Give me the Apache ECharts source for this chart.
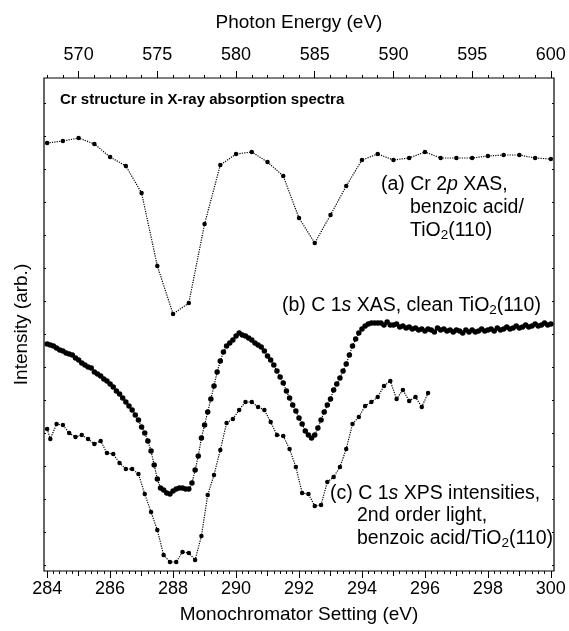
<!DOCTYPE html>
<html><head><meta charset="utf-8">
<script src="https://cdn.jsdelivr.net/npm/echarts@6/dist/echarts.min.js"></script>
<style>html,body{margin:0;padding:0;background:#fff}#c{width:569px;height:631px}</style>
</head><body><div id="c"></div>
<script>
const FONT = '"Liberation Sans", Arial, Helvetica, sans-serif';

// Tick label positions
const monoMajorTicks = [284, 286, 288, 290, 292, 294, 296, 298, 300];
const monoMidTicks = [285, 287, 289, 291, 293, 295, 297, 299];
const monoMinorTicks = Array.from({length: 81}, (_, i) => +(284 + i * 0.2).toFixed(1));
const photonMajorTicks = [570, 575, 580, 585, 590, 595, 600];
const photonMinorTicks = Array.from({length: 33}, (_, i) => 568 + i);
const sideTicks = [6, 39, 72, 105, 138, 171, 204, 237, 270, 303, 336, 369, 402, 435, 468];

// (a) Cr 2p XAS (photon energy, eV)
const cr2pEnergy = [568,569,570,571,572,573,574,575,576,577,578,579,580,581,582,583,584,585,586,587,588,589,590,591,592,593,594,595,596,597,598,599,600];
const cr2pIntensity = [428,430,433,427,414,405,378,305,257,268,347,406,417,419,409,395,353,328,356,385,411,417,411,413,419,413,413,413,415,416,416,413,412];

// (b) C 1s XAS, clean TiO2(110) (monochromator setting, eV)
const xasEnergy = [284.0,284.1,284.2,284.3,284.4,284.5,284.6,284.7,284.8,284.9,
285.0,285.1,285.2,285.3,285.4,285.5,285.6,285.7,285.8,285.9,
286.0,286.1,286.2,286.3,286.4,286.5,286.6,286.7,286.8,286.9,
287.0,287.1,287.2,287.3,287.4,287.5,287.6,287.7,287.8,287.9,
288.0,288.1,288.2,288.3,288.4,288.5,288.6,288.7,288.8,288.9,
289.0,289.1,289.2,289.3,289.4,289.5,289.6,289.7,289.8,289.9,
290.0,290.1,290.2,290.3,290.4,290.5,290.6,290.7,290.8,290.9,
291.0,291.1,291.2,291.3,291.4,291.5,291.6,291.7,291.8,291.9,
292.0,292.1,292.2,292.3,292.4,292.5,292.6,292.7,292.8,292.9,
293.0,293.1,293.2,293.3,293.4,293.5,293.6,293.7,293.8,293.9,
294.0,294.1,294.2,294.3,294.4,294.5,294.6,294.7,294.8,294.9,
295.0,295.1,295.2,295.3,295.4,295.5,295.6,295.7,295.8,295.9,
296.0,296.1,296.2,296.3,296.4,296.5,296.6,296.7,296.8,296.9,
297.0,297.1,297.2,297.3,297.4,297.5,297.6,297.7,297.8,297.9,
298.0,298.1,298.2,298.3,298.4,298.5,298.6,298.7,298.8,298.9,
299.0,299.1,299.2,299.3,299.4,299.5,299.6,299.7,299.8,299.9,300.0];
const xasIntensity = [227,226,225,223,221,220,218,217,216,213,
211,208,206,204,203,199,197,195,192,190,
187,184,180,177,173,169,165,161,156,151,
144,138,130,120,106,92,83,81,78,77,
80,82,83,83,82,82,88,101,115,133,
146,159,172,185,199,210,219,225,228,231,
235,238,236,235,233,231,228,226,224,220,
215,211,206,200,194,188,180,173,166,160,
153,147,140,136,133,136,143,151,159,166,
172,181,187,193,200,207,216,225,232,238,
242,245,247,248,248,248,248,246,249,246,
246,247,244,245,243,244,242,243,241,242,
240,242,241,239,243,241,242,240,241,239,
241,240,238,241,239,241,239,240,242,240,
241,242,240,243,241,242,244,242,243,245,
243,244,246,244,245,247,245,246,248,246,247];

// (c) C 1s XPS intensities, 2nd order light (monochromator setting, eV)
const xpsEnergy = [284.0,284.1,284.3,284.5,284.7,284.9,285.1,285.3,285.5,285.7,285.9,
286.1,286.3,286.5,286.7,286.9,287.1,287.3,287.5,287.7,287.9,
288.1,288.3,288.5,288.7,288.9,289.1,289.3,289.5,289.7,289.9,
290.1,290.3,290.5,290.7,290.9,291.1,291.3,291.5,291.7,291.9,
292.1,292.3,292.5,292.7,292.9,293.1,293.3,293.5,293.7,293.9,
294.1,294.3,294.5,294.7,294.9,295.1,295.3,295.5,295.7,295.9,296.1];
const xpsIntensity = [142,132,147,146,138,134,136,132,127,130,118,
117,108,102,102,97,77,59,41,16,9,
9,19,18,11,35,76,96,121,148,152,
161,169,169,164,161,149,136,135,122,104,
78,77,65,66,89,94,104,122,147,154,
165,169,174,185,190,172,181,170,174,164,178];

const zip = (xs, ys) => xs.map((x, i) => [x, ys[i]]);

const chart = echarts.init(document.getElementById('c'), null, {renderer: 'canvas'});

const tickAxis = (pos, min, max, vals, len, extra) => Object.assign({
  type: 'value', position: pos, min: min, max: max,
  axisLine: {show: false},
  axisTick: {show: true, inside: false, length: len, customValues: vals, lineStyle: {color: '#000', width: 1}},
  axisLabel: {show: false},
  splitLine: {show: false}
}, extra || {});

const dotted = (data, xi, size) => ({
  type: 'line', data: data, xAxisIndex: xi, yAxisIndex: 0,
  symbol: 'circle', symbolSize: size, showAllSymbol: true,
  itemStyle: {color: '#000'},
  lineStyle: {color: '#000', width: 1.2, type: 'dotted'},
  animation: false, clip: true
});

const txt = (x, y, text, extraStyle) => ({
  type: 'text', x: x, y: y, z: 100,
  style: Object.assign({
    text: text, fill: '#000', fontSize: 19.5, fontFamily: FONT,
    verticalAlign: 'middle', align: 'left', lineHeight: 22,
    rich: {
      i: {fontStyle: 'italic', fontSize: 19.5, fontFamily: FONT, lineHeight: 22},
      sub: {fontSize: 13.5, fontFamily: FONT, verticalAlign: 'bottom', lineHeight: 13}
    }
  }, extraStyle || {})
});

chart.setOption({
  backgroundColor: '#fff',
  animation: false,
  grid: {left: 44, right: 15, top: 78, bottom: 60, show: true, borderColor: '#000', borderWidth: 1.2, backgroundColor: 'transparent'},
  xAxis: [
    tickAxis('bottom', 283.9, 300.1, monoMajorTicks, 7, {
      axisLabel: {show: true, customValues: monoMajorTicks, fontSize: 18, fontFamily: FONT, color: '#000', margin: 9},
      name: 'Monochromator Setting (eV)', nameLocation: 'middle', nameGap: 34,
      nameTextStyle: {fontSize: 19, fontFamily: FONT, color: '#000'}
    }),
    tickAxis('bottom', 283.9, 300.1, monoMidTicks, 5),
    tickAxis('bottom', 283.9, 300.1, monoMinorTicks, 3),
    tickAxis('top', 567.8, 600.2, photonMajorTicks, 7, {
      axisLabel: {show: true, customValues: photonMajorTicks, fontSize: 18, fontFamily: FONT, color: '#000', margin: 14},
      name: 'Photon Energy (eV)', nameLocation: 'middle', nameGap: 46,
      nameTextStyle: {fontSize: 19, fontFamily: FONT, color: '#000'}
    }),
    tickAxis('top', 567.8, 600.2, photonMinorTicks, 3)
  ],
  yAxis: [
    {type: 'value', position: 'left', min: 0, max: 493,
     axisLine: {show: false}, splitLine: {show: false}, axisLabel: {show: false},
     axisTick: {show: true, inside: true, length: 2, customValues: sideTicks, lineStyle: {color: '#000'}},
     name: 'Intensity (arb.)', nameLocation: 'middle', nameGap: 13,
     nameTextStyle: {fontSize: 19, fontFamily: FONT, color: '#000'}},
    {type: 'value', position: 'right', min: 0, max: 493,
     axisLine: {show: false}, splitLine: {show: false}, axisLabel: {show: false},
     axisTick: {show: true, inside: true, length: 2, customValues: sideTicks, lineStyle: {color: '#000'}}}
  ],
  series: [
    dotted(zip(cr2pEnergy, cr2pIntensity), 3, 4.5),
    dotted(zip(xasEnergy, xasIntensity), 0, 5.5),
    dotted(zip(xpsEnergy, xpsIntensity), 0, 4.5)
  ],
  graphic: [
    txt(60, 100, 'Cr structure in X-ray absorption spectra', {fontWeight: 'bold', fontSize: 15}),
    txt(381, 185, '(a) Cr 2{i|p} XAS,'),
    txt(410, 208, 'benzoic acid/'),
    txt(410, 231, 'TiO{sub|2}(110)'),
    txt(282, 306, '(b) C 1{i|s} XAS, clean TiO{sub|2}(110)'),
    txt(330, 494, '(c) C 1{i|s} XPS intensities,'),
    txt(357, 516, '2nd order light,'),
    txt(357, 539, 'benzoic acid/TiO{sub|2}(110)')
  ]
});
</script>
</body></html>
